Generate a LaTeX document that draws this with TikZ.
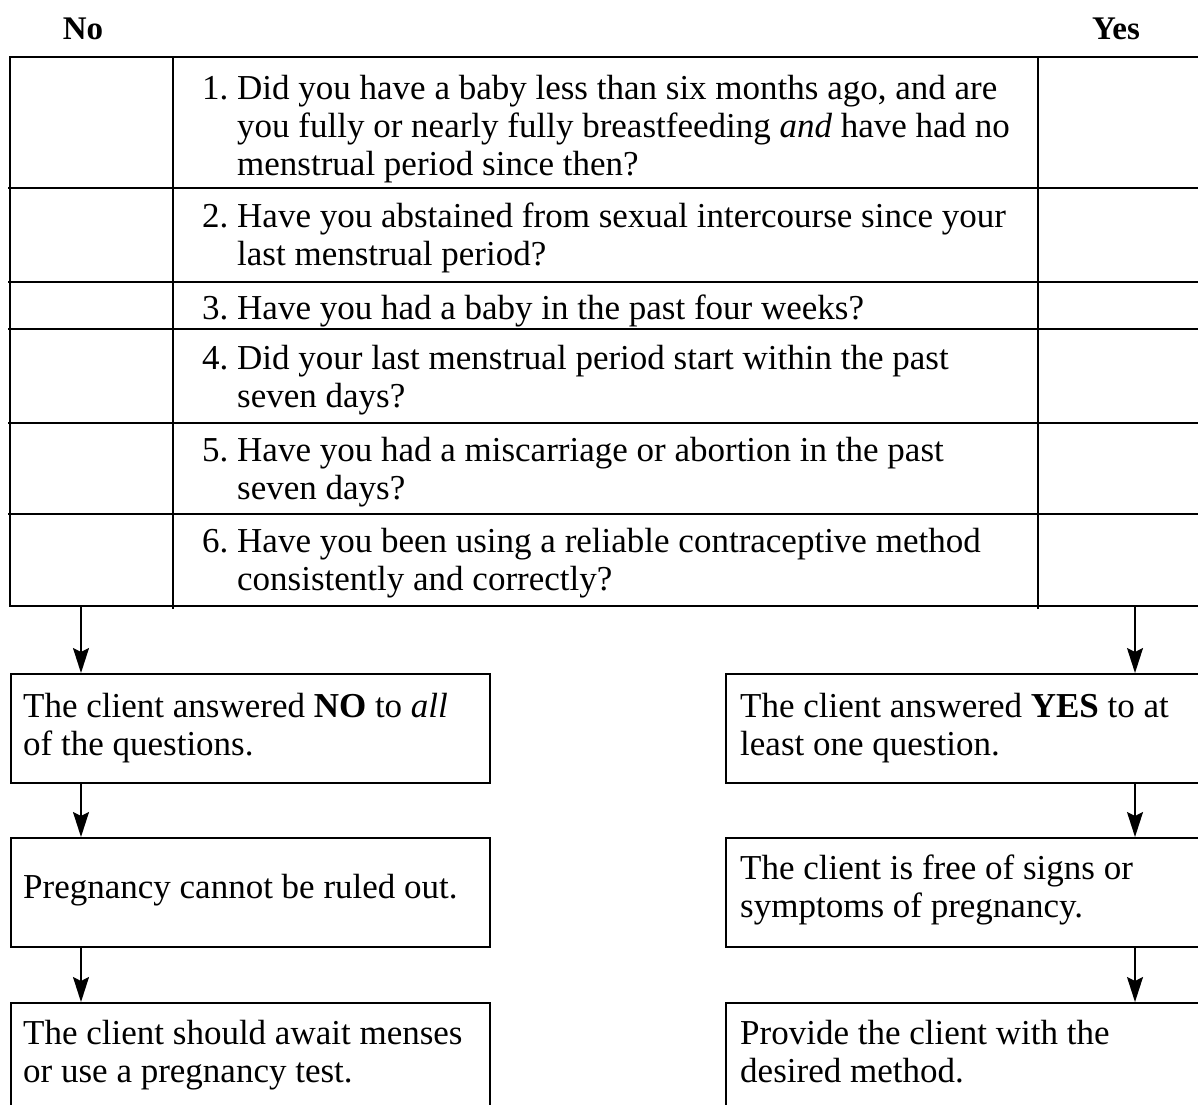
\documentclass[tikz,border=0pt]{standalone}
\usepackage{fontspec}
\setmainfont{Liberation Serif}
\usetikzlibrary{arrows.meta}
\newcommand{\qfont}{\fontsize{35}{38}\selectfont}
\tikzset{
  grid/.style={line width=1.6pt, black},
  arr/.style={line width=1.6pt, -{Stealth[length=25pt,width=16pt,inset=4pt]}},
  txt/.style={anchor=base west, align=left, inner sep=0pt, font=\qfont},
  head/.style={anchor=base, inner sep=0pt, font=\fontsize{33}{38}\selectfont\bfseries},
  box/.style={draw, line width=1.6pt, minimum height=109pt, inner sep=0pt, anchor=north west}
}
\begin{document}
\begin{tikzpicture}[x=1pt,y=-1pt]
\clip (0,0) rectangle (1198,1104);
\fill[white] (0,0) rectangle (1198,1104);
% headers
\node[head] (no) at (83,39) {No};
\node[head] (yes) at (1116,39) {Yes};
% table
\draw[grid] (1210,57) -- (10,57) -- (10,606) -- (1210,606);
\foreach \yy in {188,282,329,423,514} \draw[grid] (8,\yy) -- (1210,\yy);
\draw[grid] (173,57) -- (173,609);
\draw[grid] (1038,57) -- (1038,609);
% questions (base anchor = baseline of last line)
\node[txt] (n1) at (202,99) {1.};
\node[txt] (q1) at (237,175) {Did you have a baby less than six months ago, and are\\you fully or nearly fully breastfeeding \textit{and} have had no\\menstrual period since then?};
\node[txt] (n2) at (202,227) {2.};
\node[txt] (q2) at (237,265) {Have you abstained from sexual intercourse since your\\last menstrual period?};
\node[txt] (n3) at (202,319) {3.};
\node[txt] (q3) at (237,319) {Have you had a baby in the past four weeks?};
\node[txt] (n4) at (202,369) {4.};
\node[txt] (q4) at (237,407) {Did your last menstrual period start within the past\\seven days?};
\node[txt] (n5) at (202,461) {5.};
\node[txt] (q5) at (237,499) {Have you had a miscarriage or abortion in the past\\seven days?};
\node[txt] (n6) at (202,552) {6.};
\node[txt] (q6) at (237,590) {Have you been using a reliable contraceptive method\\consistently and correctly?};
% anchors below table
\coordinate (tl) at (81,606);
\coordinate (tr) at (1135,606);
% left boxes
\node[box, minimum width=479pt] (L1) at (10,673) {};
\node[box, minimum width=479pt] (L2) at (10,837) {};
\node[box, minimum width=479pt] (L3) at (10,1002) {};
\node[txt] (t1) at (23,755) {The client answered \textbf{NO} to \textit{all}\\of the questions.};
\node[txt] (t2) at (23,898) {Pregnancy cannot be ruled out.};
\node[txt] (t3) at (23,1082) {The client should await menses\\or use a pregnancy test.};
% right boxes
\node[box, minimum width=490pt] (R1) at (725,673) {};
\node[box, minimum width=490pt] (R2) at (725,837) {};
\node[box, minimum width=490pt] (R3) at (725,1002) {};
\node[txt] (u1) at (740,755) {The client answered \textbf{YES} to at\\least one question.};
\node[txt] (u2) at (740,917) {The client is free of signs or\\symptoms of pregnancy.};
\node[txt] (u3) at (740,1082) {Provide the client with the\\desired method.};
% arrows
\draw[arr] (tl) -- (L1.north west -| tl);
\draw[arr] (L1.south west -| tl) -- (L2.north west -| tl);
\draw[arr] (L2.south west -| tl) -- (L3.north west -| tl);
\draw[arr] (tr) -- (R1.north west -| tr);
\draw[arr] (R1.south west -| tr) -- (R2.north west -| tr);
\draw[arr] (R2.south west -| tr) -- (R3.north west -| tr);
\end{tikzpicture}
\end{document}
